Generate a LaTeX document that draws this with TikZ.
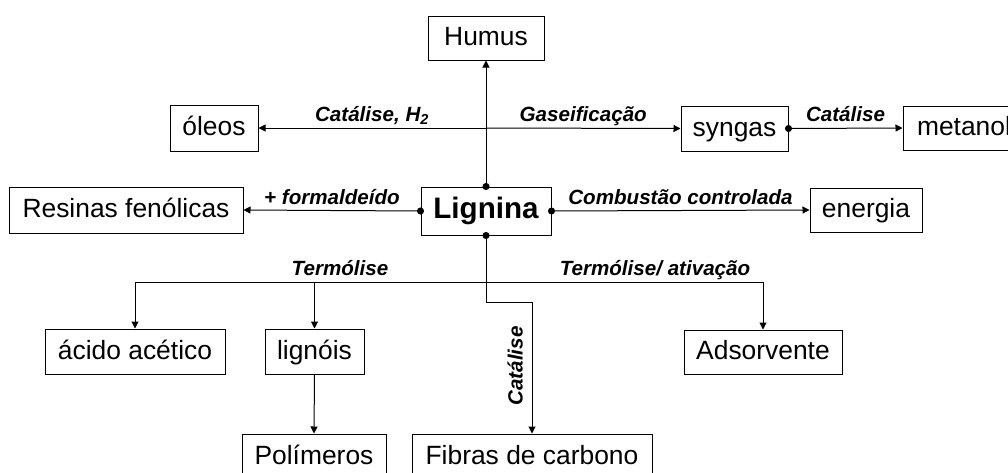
\documentclass[tikz,border=0pt]{standalone}
\usepackage{fontspec}
\setmainfont{Liberation Sans}
\usetikzlibrary{arrows.meta}

\begin{document}
\begin{tikzpicture}[x=0.5pt,y=-0.5pt,
    caixa/.style={draw,line width=0.5pt,inner sep=0pt,text height=0.95em,text depth=0.19em,font=\fontsize{13.2}{15}\selectfont},
    rotulo/.style={font=\fontsize{10.3}{12}\selectfont\bfseries\itshape,inner sep=0pt,text depth=0pt},
    seta/.style={line width=0.5pt,-{Triangle[length=3.5pt,width=3.5pt]}},
    ponto/.style={line width=0.5pt,{Circle[length=3.5pt]}-{Triangle[length=3.5pt,width=3.5pt]},shorten <=-1.75pt}]
    \useasboundingbox (0,0) rectangle (1008,472);
    \clip (0,0) rectangle (1008,472);

    % caixas
    \node[caixa,minimum width=58pt,minimum height=22pt] (humus) at (486,38) {Humus};
    \node[caixa,minimum width=44pt,minimum height=23pt] (oleos) at (214,128) {óleos};
    \node[caixa,minimum width=53.5pt,minimum height=22.5pt] (syngas) at (734.5,128.5) {syngas};
    \node[caixa,minimum width=61pt,minimum height=22pt] (metanol) at (964,128) {metanol};
    \node[caixa,minimum width=117pt,minimum height=23pt] (resinas) at (126,210) {Resinas fenólicas};
    \node[caixa,minimum width=65pt,minimum height=24pt,font=\fontsize{14.8}{17}\selectfont\bfseries] (lignina) at (486,211) {Lignina};
    \node[caixa,minimum width=56pt,minimum height=22pt] (energia) at (866,210) {energia};
    \node[caixa,minimum width=90pt,minimum height=22.5pt] (acido) at (135,351.5) {ácido acético};
    \node[caixa,minimum width=49.5pt,minimum height=22.5pt] (lignois) at (314.5,351.5) {lignóis};
    \node[caixa,minimum width=79pt,minimum height=22pt] (adsorvente) at (763,352) {Adsorvente};
    \node[caixa,minimum width=72pt,minimum height=23pt] (polimeros) at (314,457) {Polímeros};
    \node[caixa,minimum width=120pt,minimum height=23pt] (fibras) at (532,457) {Fibras de carbono};

    \coordinate (j1) at (486,128);
    \coordinate (j2) at (486,282);
    \coordinate (j3) at (486,302);

    % ligacoes
    \draw[ponto] (lignina.north) -- (humus.south);
    \draw[seta] (j1) -- (oleos.east) node[rotulo,midway,above=3pt] {Catálise, H\textsubscript{2}};
    \draw[seta] (j1) -- (syngas.west) node[rotulo,midway,above=3pt] {Gaseificação};
    \draw[ponto] (syngas.east) -- (metanol.west) node[rotulo,midway,above=3pt] {Catálise};
    \draw[ponto] (lignina.west) -- (resinas.east) node[rotulo,midway,above=3pt] {+ formaldeído};
    \draw[ponto] (lignina.east) -- (energia.west) node[rotulo,midway,above=3pt] {Combustão controlada};
    \draw[ponto] (lignina.south) -- (j3) -| (fibras.north);
    \draw[seta] (j2) -| (acido.north);
    \draw[seta] (j2) -| (lignois.north);
    \draw[seta] (j2) -| (adsorvente.north);
    \draw[seta] (lignois.south) -- (polimeros.north);

    \node[rotulo,above=3pt] (termolise) at (340,282) {Termólise};
    \node[rotulo,above=3pt] (ativacao) at (655,282) {Termólise/ ativação};
    \node[rotulo,rotate=90] (catalise) at (515,366) {Catálise};
\end{tikzpicture}
\end{document}
